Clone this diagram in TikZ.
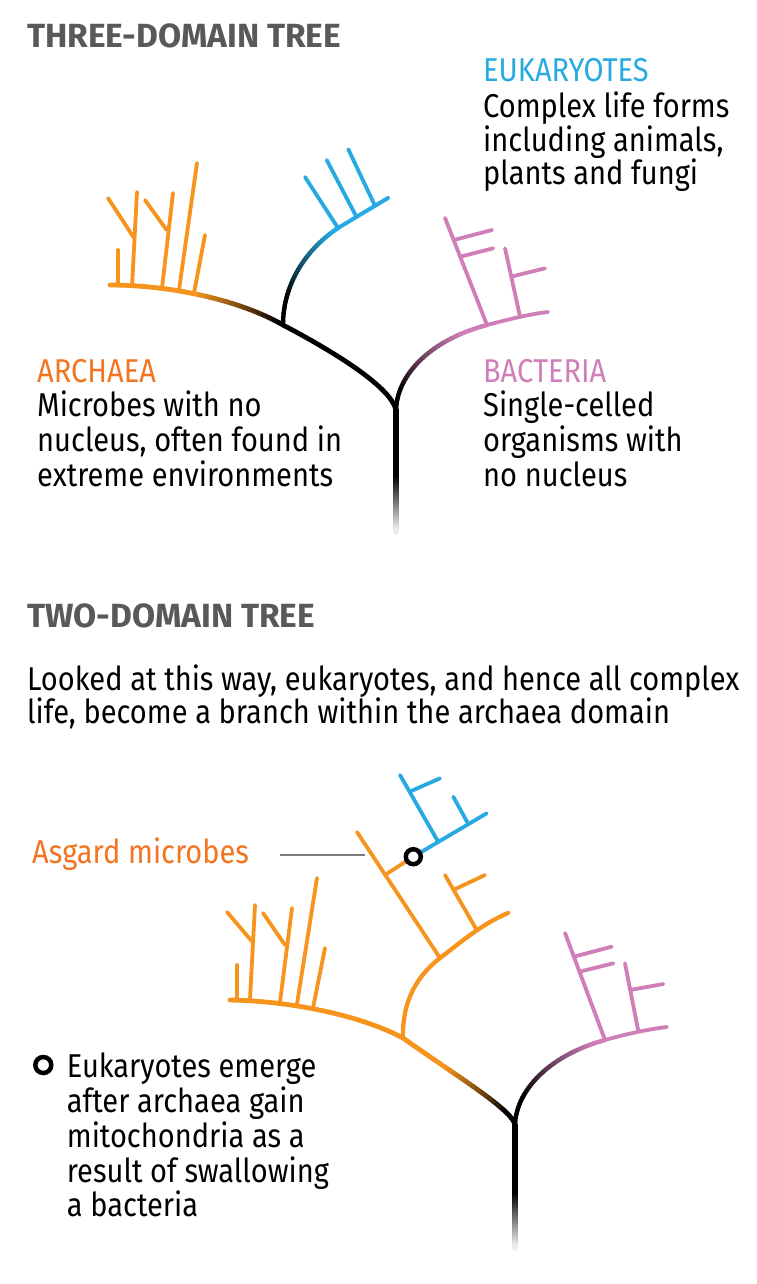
\documentclass[tikz,border=0pt]{standalone}
\usepackage{fontspec}
\setmainfont{Fira Sans}[FakeStretch=0.88]
\newfontfamily\headfont{Fira Sans}
\usetikzlibrary{calc}
\definecolor{archor}{HTML}{F7941D}
\definecolor{archtext}{HTML}{F37421}
\definecolor{eublue}{HTML}{27AAE1}
\definecolor{bactpink}{HTML}{D07EB8}
\definecolor{headgray}{HTML}{58595B}
\definecolor{ptrgray}{HTML}{7A7A7A}
\definecolor{fadegray}{HTML}{F0F0F0}
\newcommand{\gcurve}[9]{%
  \foreach \i in {1,...,30}{%
    \pgfmathsetmacro{\ta}{(\i-1)/30}%
    \pgfmathsetmacro{\tb}{\i/30}%
    \pgfmathsetmacro{\pc}{min(100,max(0,((\i-0.5)/30-#8)/(#9-#8)*100))}%
    \path #2 .. controls #3 and #4 .. #5 coordinate[pos=\ta] (ga) coordinate[pos=\tb] (gb);%
    \draw[#1, color=#7!\pc!#6] (ga) -- (gb);%
  }%
}
\tikzset{
  br/.style={line width=3.8pt, line cap=round, line join=round},
  mainbr/.style={line width=4.8pt, line cap=round, line join=round},
  trunkbr/.style={line width=5.3pt, line cap=round},
  body/.style={inner sep=0pt, anchor=base west, font=\fontsize{33}{33}\selectfont},
  head/.style={inner sep=0pt, anchor=base west, font=\headfont\bfseries\fontsize{33.5}{33.5}\selectfont, text=headgray},
  ring/.style={line width=4.5pt, draw=black, fill=white},
}
\begin{document}
\begin{tikzpicture}[x=1pt,y=-1pt]
\useasboundingbox (0,0) rectangle (756,1284);
\fill[white] (0,0) rectangle (756,1284);

% ---------------- texts: top ----------------
\node[head] (h1) at (27,48) {THREE-DOMAIN TREE};
\node[body, text=eublue] (eu0) at (483,82) {EUKARYOTES};
\node[body] (eu1) at (483,118) {Complex life forms};
\node[body] (eu2) at (483,152) {including animals,};
\node[body] (eu3) at (483,185) {plants and fungi};
\node[body, text=archtext] (ar0) at (37,382) {ARCHAEA};
\node[body] (ar1) at (37,416) {Microbes with no};
\node[body] (ar2) at (37,451) {nucleus, often found in};
\node[body] (ar3) at (37,486) {extreme environments};
\node[body, text=bactpink] (ba0) at (483,382) {BACTERIA};
\node[body] (ba1) at (483,416) {Single-celled};
\node[body] (ba2) at (483,451) {organisms with};
\node[body] (ba3) at (483,486) {no nucleus};

% ---------------- top tree ----------------
\coordinate (F1) at (396,410);
\coordinate (T1m) at (396,478);
\coordinate (T1b) at (396,532);
\draw[trunkbr] (F1) -- (T1m);
\gcurve{trunkbr}{(T1m)}{(396,496)}{(396,514)}{(T1b)}{black}{fadegray}{0}{1}

% archaea main
\coordinate (A1) at (283,325);
\coordinate (A1end) at (110,285);
\draw[mainbr] (F1) .. controls (391,388) and (340,355) .. (A1);
\gcurve{mainbr}{(A1)}{(240,300)}{(170,285)}{(A1end)}{black}{archor}{0.05}{0.55}
% archaea twigs
\coordinate (a1b) at (118,285); \coordinate (a1t) at (118,250);
\coordinate (a2b) at (132,286.5); \coordinate (a2t) at (137,192);
\coordinate (a2j) at (133.4,237); \coordinate (a2a) at (108,198);
\coordinate (a3b) at (162,288); \coordinate (a3t) at (173,193);
\coordinate (a3j) at (166.6,230); \coordinate (a3a) at (145,200);
\coordinate (a4b) at (179,290); \coordinate (a4t) at (197,163);
\coordinate (a5b) at (194,293); \coordinate (a5t) at (205,235);
\draw[br, archor] (a1b) -- (a1t);
\draw[br, archor] (a2b) -- (a2t);
\draw[br, archor] (a2j) -- (a2a);
\draw[br, archor] (a3b) -- (a3t);
\draw[br, archor] (a3j) -- (a3a);
\draw[br, archor] (a4b) -- (a4t);
\draw[br, archor] (a5b) -- (a5t);

% eukaryote branch
\coordinate (E1) at (338,228);
\coordinate (E1end) at (388,198);
\gcurve{mainbr, line width=4.4pt}{(A1)}{(283,285)}{(305,250)}{(E1)}{black}{eublue}{0.25}{0.95}
\draw[br, eublue, line width=4pt] (E1) -- (E1end);
\coordinate (E2) at ($(E1)!0.37!(E1end)$);
\coordinate (E3) at ($(E1)!0.74!(E1end)$);
\coordinate (e1t) at (305,177);
\coordinate (e2t) at (326.7,160);
\coordinate (e3t) at (348.3,149.3);
\draw[br, eublue] (E1) -- (e1t);
\draw[br, eublue] (E2) -- (e2t);
\draw[br, eublue] (E3) -- (e3t);

% bacteria branch
\coordinate (B1) at (487,325);
\coordinate (B1end) at (548,312);
\gcurve{mainbr, line width=4.4pt}{(F1)}{(397,375)}{(430,340)}{(B1)}{black}{bactpink}{0.2}{0.85}
\draw[br, bactpink] (B1) .. controls (510,319) and (530,314) .. (B1end);
\coordinate (p1t) at (445,218);
\coordinate (p1j1) at ($(p1t)!0.206!(B1)$);
\coordinate (p1j2) at ($(p1t)!0.362!(B1)$);
\coordinate (p1e1) at (492,230);
\coordinate (p1e2) at (493.3,248.3);
\draw[br, bactpink] (B1) -- (p1t);
\draw[br, bactpink] (p1j1) -- (p1e1);
\draw[br, bactpink] (p1j2) -- (p1e2);
\coordinate (p2b) at (520,316.5);
\coordinate (p2t) at (505,248.3);
\coordinate (p2j) at ($(p2t)!0.416!(p2b)$);
\coordinate (p2e) at (545,268.3);
\draw[br, bactpink] (p2b) -- (p2t);
\draw[br, bactpink] (p2j) -- (p2e);

% ---------------- texts: bottom ----------------
\node[head] (h2) at (27,627) {TWO-DOMAIN TREE};
\node[body] (lk1) at (27,690) {Looked at this way, eukaryotes, and hence all complex};
\node[body] (lk2) at (27,723) {life, become a branch within the archaea domain};
\node[body, text=archtext] (asg) at (32,863) {Asgard microbes};
\node[body] (n1) at (66.7,1077) {Eukaryotes emerge};
\node[body] (n2) at (66.7,1112) {after archaea gain};
\node[body] (n3) at (66.7,1147) {mitochondria as a};
\node[body] (n4) at (66.7,1182) {result of swallowing};
\node[body] (n5) at (66.7,1216) {a bacteria};
\coordinate (nc) at (43.3,1065);
\draw[ring] (nc) circle[radius=8pt];

% ---------------- bottom tree ----------------
\coordinate (F2) at (515,1125);
\coordinate (T2m) at (515,1195);
\coordinate (T2b) at (515,1248);
\draw[trunkbr] (F2) -- (T2m);
\gcurve{trunkbr}{(T2m)}{(515,1213)}{(515,1230)}{(T2b)}{black}{fadegray}{0}{1}

% archaea main (bottom)
\coordinate (G1) at (403,1038);
\coordinate (G1end) at (230,1000);
\gcurve{mainbr}{(F2)}{(513,1110)}{(455,1075)}{(G1)}{black}{archor}{0.25}{0.75}
\draw[mainbr, archor] (G1) .. controls (360,1015) and (290,1001) .. (G1end);
\coordinate (c1b) at (237,1000); \coordinate (c1t) at (237,965);
\coordinate (c2b) at (250,999); \coordinate (c2t) at (255,905);
\coordinate (c2j) at (252.5,942); \coordinate (c2a) at (227,912);
\coordinate (c3b) at (280,1002); \coordinate (c3t) at (292,908);
\coordinate (c3j) at (285,945); \coordinate (c3a) at (263,913);
\coordinate (c4b) at (297,1004); \coordinate (c4t) at (317,878);
\coordinate (c5b) at (313,1008); \coordinate (c5t) at (325,948);
\draw[br, archor] (c1b) -- (c1t);
\draw[br, archor] (c2b) -- (c2t);
\draw[br, archor] (c2j) -- (c2a);
\draw[br, archor] (c3b) -- (c3t);
\draw[br, archor] (c3j) -- (c3a);
\draw[br, archor] (c4b) -- (c4t);
\draw[br, archor] (c5b) -- (c5t);

% asgard branch
\coordinate (H1) at (440,958);
\coordinate (H1end) at (508,913);
\draw[mainbr, archor, line width=4.3pt] (G1) .. controls (402,1000) and (418,975) .. (H1) .. controls (460,943) and (480,925) .. (H1end);
\coordinate (S1t) at (357,832);
\draw[br, archor] (H1) -- (S1t);
\coordinate (Sj) at ($(S1t)!0.34!(H1)$);
\coordinate (C1) at (413.3,856.7);
\draw[br, archor] (Sj) -- (C1);
\coordinate (o2b) at (476.7,930);
\coordinate (o2t) at (445,875);
\coordinate (o2j) at ($(o2t)!0.27!(o2b)$);
\coordinate (o2e) at (485,875);
\draw[br, archor] (o2b) -- (o2t);
\draw[br, archor] (o2j) -- (o2e);

% eukaryotes (blue) from the circle
\coordinate (U1end) at (486.7,813.3);
\draw[br, eublue] (C1) -- (U1end);
\coordinate (U2) at ($(C1)!0.34!(U1end)$);
\coordinate (u2t) at (400,775);
\coordinate (u2j) at ($(u2t)!0.25!(U2)$);
\coordinate (u2e) at (440,778.3);
\draw[br, eublue] (U2) -- (u2t);
\draw[br, eublue] (u2j) -- (u2e);
\coordinate (U3) at ($(C1)!0.75!(U1end)$);
\coordinate (u3t) at (453.3,796.7);
\draw[br, eublue] (U3) -- (u3t);
\draw[ring] (C1) circle[radius=7.5pt];

% pointer
\coordinate (L1) at (280,855);
\coordinate (L2) at (365,855);
\draw[ptrgray, line width=2.2pt] (L1) -- (L2);

% bacteria (bottom)
\coordinate (Q1) at (605,1040);
\coordinate (Q1end) at (667,1027);
\gcurve{mainbr, line width=4.4pt}{(F2)}{(516,1090)}{(550,1055)}{(Q1)}{black}{bactpink}{0.3}{0.95}
\draw[br, bactpink] (Q1) .. controls (630,1033) and (650,1029) .. (Q1end);
\coordinate (q1t) at (565,933);
\coordinate (q1j1) at ($(q1t)!0.2215!(Q1)$);
\coordinate (q1j2) at ($(q1t)!0.362!(Q1)$);
\coordinate (q1e1) at (611.7,946.7);
\coordinate (q1e2) at (613.3,963.3);
\draw[br, bactpink] (Q1) -- (q1t);
\draw[br, bactpink] (q1j1) -- (q1e1);
\draw[br, bactpink] (q1j2) -- (q1e2);
\coordinate (q2b) at (638.3,1031);
\coordinate (q2t) at (625,963.3);
\coordinate (q2j) at ($(q2t)!0.394!(q2b)$);
\coordinate (q2e) at (663.3,984);
\draw[br, bactpink] (q2b) -- (q2t);
\draw[br, bactpink] (q2j) -- (q2e);
\end{tikzpicture}
\end{document}
